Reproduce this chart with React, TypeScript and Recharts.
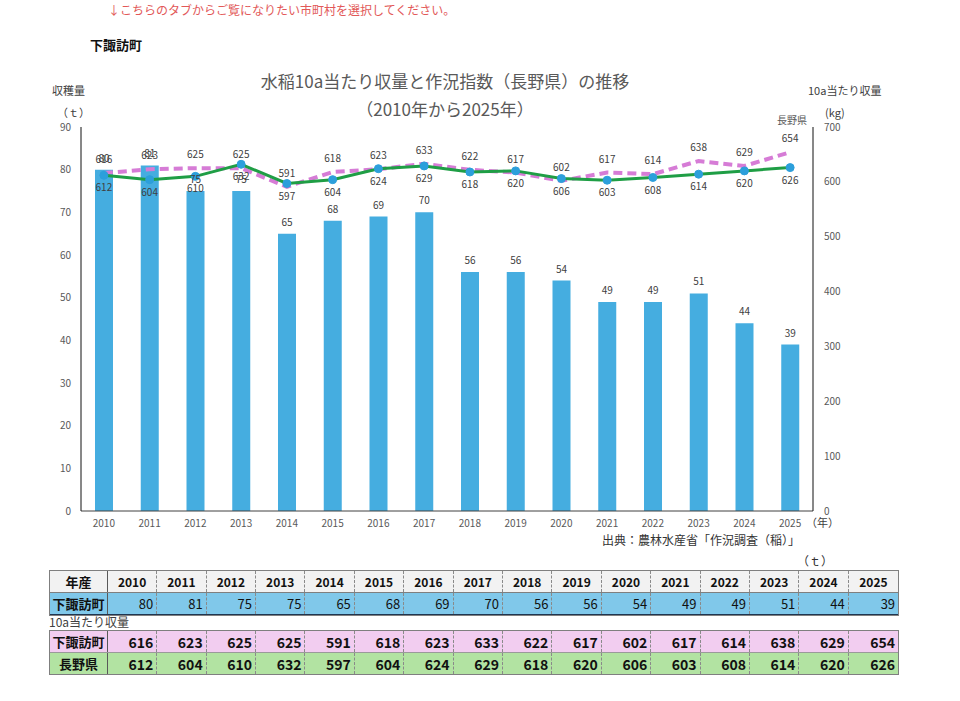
import React from "react";
import {
  ComposedChart,
  Bar,
  Line,
  XAxis,
  YAxis,
  LabelList,
} from "recharts";

const years = [
  "2010", "2011", "2012", "2013", "2014", "2015", "2016", "2017",
  "2018", "2019", "2020", "2021", "2022", "2023", "2024", "2025",
];
const harvest = [80, 81, 75, 75, 65, 68, 69, 70, 56, 56, 54, 49, 49, 51, 44, 39];
const shimosuwaYield = [616, 623, 625, 625, 591, 618, 623, 633, 622, 617, 602, 617, 614, 638, 629, 654];
const naganoYield = [612, 604, 610, 632, 597, 604, 624, 629, 618, 620, 606, 603, 608, 614, 620, 626];
const leftTicks = [0, 10, 20, 30, 40, 50, 60, 70, 80, 90];
const rightTicks = [0, 100, 200, 300, 400, 500, 600, 700];

const FONT = '"Noto Sans CJK JP", "Noto Sans", sans-serif';
const BAR_COLOR = "#45ade0";
const PINK = "#d67cd6";
const GREEN = "#1f9e45";
const DOT = "#2c9fdb";

const data = years.map((year, i) => ({
  year,
  harvest: harvest[i],
  shimosuwa: shimosuwaYield[i],
  nagano: naganoYield[i],
}));

const abs = (left: number, top: number, extra: React.CSSProperties = {}): React.CSSProperties => ({
  position: "absolute",
  left,
  top,
  whiteSpace: "nowrap",
  lineHeight: 1,
  ...extra,
});

const COL0 = 58;
const COLW = (850 - COL0) / 16;

function TableRow({
  label,
  values,
  bg,
  height,
  bold,
  fontSize,
  align,
  borderBottom,
}: {
  label: string;
  values: (string | number)[];
  bg: string;
  height: number;
  bold: boolean;
  fontSize: number;
  align: "center" | "right";
  borderBottom?: string;
}) {
  return (
    <div style={{ display: "flex", height, background: bg, borderBottom }}>
      <div
        style={{
          width: COL0,
          display: "flex",
          alignItems: "center",
          justifyContent: "center",
          fontWeight: "bold",
          fontSize: 13,
          borderRight: "1px solid #595959",
          boxSizing: "border-box",
        }}
      >
        {label}
      </div>
      {values.map((v, i) => (
        <div
          key={i}
          style={{
            width: COLW,
            display: "flex",
            alignItems: "center",
            justifyContent: align === "center" ? "center" : "flex-end",
            paddingRight: align === "right" ? 3 : 0,
            boxSizing: "border-box",
            fontWeight: bold ? "bold" : "normal",
            fontSize,
            borderRight: i < values.length - 1 ? "1px dashed #8a8a8a" : "none",
          }}
        >
          {v}
        </div>
      ))}
    </div>
  );
}

export default function App() {
  return (
    <div
      style={{
        position: "absolute",
        left: 0,
        top: 0,
        width: 960,
        height: 701,
        background: "#fff",
        fontFamily: FONT,
        color: "#404040",
        overflow: "hidden",
      }}
    >
      <div style={abs(108, 4, { fontSize: 12, color: "#e25858" })}>
        ↓こちらのタブからご覧になりたい市町村を選択してください。
      </div>
      <div style={abs(90, 38, { fontSize: 13, fontWeight: "bold", color: "#111" })}>下諏訪町</div>

      <div style={abs(0, 72, { width: 890, textAlign: "center", fontSize: 17, color: "#595959" })}>
        水稲10a当たり収量と作況指数（長野県）の推移
      </div>
      <div style={abs(0, 100, { width: 890, textAlign: "center", fontSize: 17, color: "#595959" })}>
        （2010年から2025年）
      </div>

      <div style={abs(52, 85, { fontSize: 11 })}>収穫量</div>
      <div style={abs(57, 107, { fontSize: 11 })}>（ｔ）</div>
      <div style={abs(808, 85, { fontSize: 11 })}>10a当たり収量</div>
      <div style={abs(825, 107, { fontSize: 11 })}>(kg)</div>
      <div style={abs(777, 115, { fontSize: 10, color: "#595959" })}>長野県</div>

      <div style={{ position: "absolute", left: 0, top: 0 }}>
        <ComposedChart
          width={960}
          height={560}
          data={data}
          margin={{ top: 127, right: 0, bottom: 19, left: 0 }}
          barCategoryGap={0}
        >
          <XAxis
            dataKey="year"
            tickLine={false}
            tickSize={6}
            tickMargin={3}
            height={30}
            axisLine={{ stroke: "#404040" }}
            tick={{ fontSize: 10, fill: "#595959", fontFamily: FONT }}
            interval={0}
          />
          <YAxis
            yAxisId="left"
            orientation="left"
            width={81}
            domain={[0, 90]}
            ticks={leftTicks}
            tickLine={false}
            tickSize={6}
            tickMargin={4}
            axisLine={{ stroke: "#111" }}
            tick={{ fontSize: 10, fill: "#595959", fontFamily: FONT }}
          />
          <YAxis
            yAxisId="right"
            orientation="right"
            width={147}
            domain={[0, 700]}
            ticks={rightTicks}
            tickLine={false}
            tickSize={6}
            tickMargin={5}
            axisLine={{ stroke: "#111" }}
            tick={{ fontSize: 10, fill: "#595959", fontFamily: FONT, textAnchor: "start" }}
          />
          <Bar yAxisId="left" dataKey="harvest" fill={BAR_COLOR} barSize={18} isAnimationActive={false}>
            <LabelList dataKey="harvest" position="top" offset={8} fontSize={10} fill="#404040" fontFamily={FONT} />
          </Bar>
          <Line
            yAxisId="right"
            dataKey="shimosuwa"
            stroke={PINK}
            strokeWidth={4}
            strokeDasharray="9 5"
            dot={false}
            activeDot={false}
            isAnimationActive={false}
          >
            <LabelList dataKey="shimosuwa" position="top" offset={10} fontSize={10} fill="#404040" fontFamily={FONT} />
          </Line>
          <Line
            yAxisId="right"
            dataKey="nagano"
            stroke={GREEN}
            strokeWidth={3}
            dot={{ r: 4, fill: DOT, stroke: DOT, strokeWidth: 1 }}
            activeDot={false}
            isAnimationActive={false}
          >
            <LabelList dataKey="nagano" position="bottom" offset={9} fontSize={10} fill="#404040" fontFamily={FONT} />
          </Line>
        </ComposedChart>
      </div>

      <div style={abs(806, 517, { fontSize: 11 })}>（年）</div>
      <div style={abs(602, 534, { fontSize: 12, color: "#333" })}>出典：農林水産省「作況調査（稲）」</div>
      <div style={abs(797, 555, { fontSize: 12, color: "#333" })}>（ｔ）</div>

      <div
        style={{
          position: "absolute",
          left: 49,
          top: 570,
          width: 850,
          border: "1px solid #7f7f7f",
          boxSizing: "border-box",
          color: "#111",
        }}
      >
        <TableRow
          label="年産"
          values={years}
          bg="#f2f2f2"
          height={21}
          bold
          fontSize={12}
          align="center"
          borderBottom="1px solid #7f7f7f"
        />
        <TableRow
          label="下諏訪町"
          values={harvest}
          bg="#80c8ea"
          height={21}
          bold={false}
          fontSize={13}
          align="right"
          borderBottom="1px solid #1f3550"
        />
      </div>
      <div style={abs(49, 616, { fontSize: 12 })}>10a当たり収量</div>
      <div
        style={{
          position: "absolute",
          left: 49,
          top: 630,
          width: 850,
          border: "1px solid #7f7f7f",
          boxSizing: "border-box",
          color: "#111",
        }}
      >
        <TableRow
          label="下諏訪町"
          values={shimosuwaYield}
          bg="#f2cdf0"
          height={21}
          bold
          fontSize={14}
          align="right"
          borderBottom="1px solid #9a9a9a"
        />
        <TableRow
          label="長野県"
          values={naganoYield}
          bg="#b2e3a2"
          height={21}
          bold
          fontSize={14}
          align="right"
        />
      </div>
    </div>
  );
}
